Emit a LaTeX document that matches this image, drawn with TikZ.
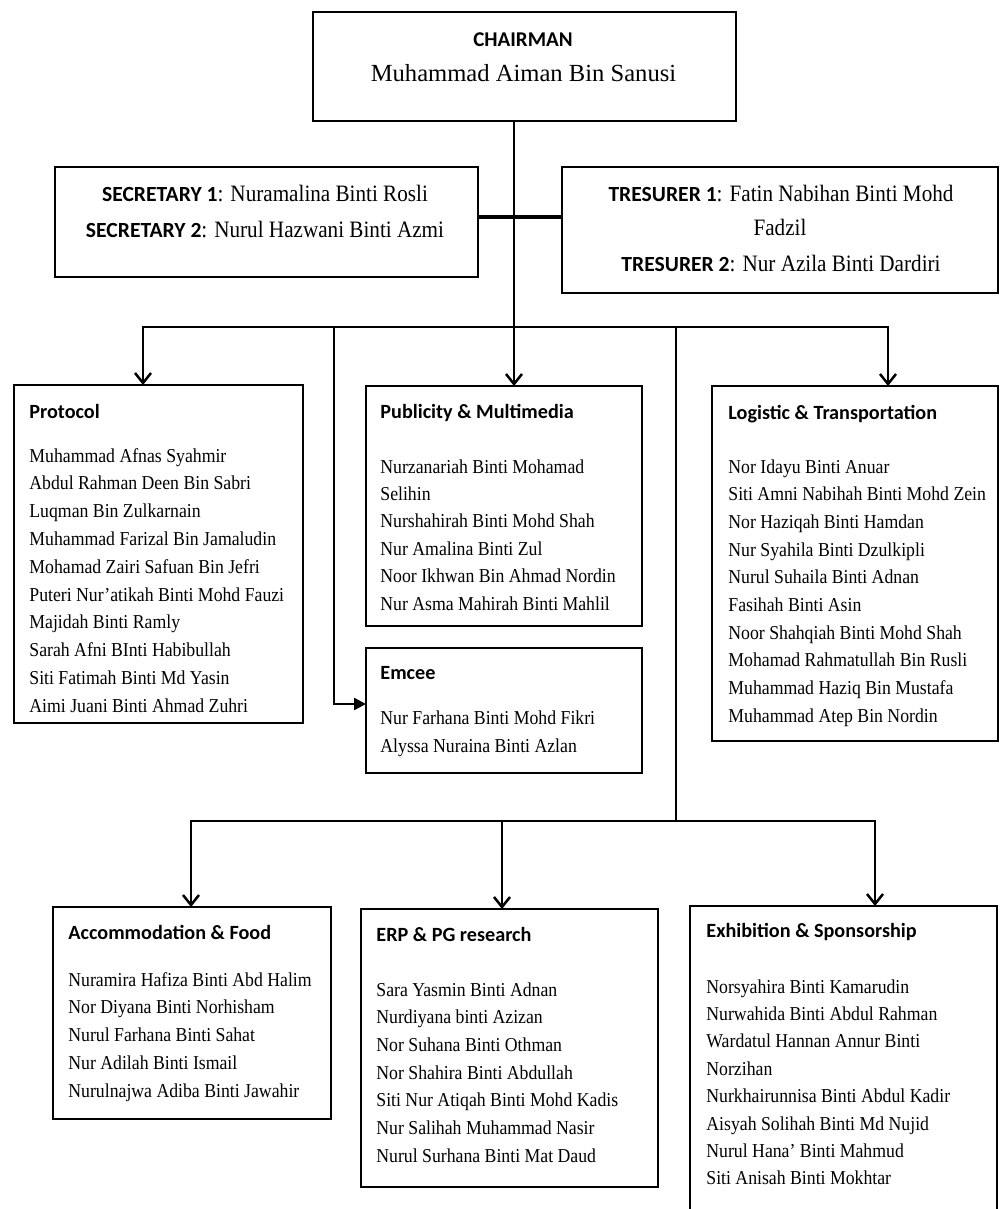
\documentclass[tikz,border=0pt]{standalone}
\usepackage{fontspec}
\usetikzlibrary{arrows.meta}
\setmainfont{Liberation Serif}
\newfontfamily\headfont{Carlito}
\newfontfamily\namefont[FakeStretch=0.9]{Liberation Serif}
\newcommand\rolefont{\headfont\bfseries\fontsize{10.8}{13}\selectfont}
\newcommand\rolename{\namefont\fontsize{11.75}{13}\selectfont}

\begin{document}
\begin{tikzpicture}[x=0.5pt,y=-0.5pt,
  box/.style={draw,line width=1pt,inner sep=0pt,outer sep=0pt},
  conn/.style={line width=1.25pt},
  arr/.style={line width=1.25pt,-{Straight Barb[length=5pt,width=8pt]}},
  arrf/.style={line width=1.25pt,-{Triangle[length=6pt,width=6pt]}},
  head/.style={anchor=base west,inner sep=0pt,font=\headfont\bfseries\fontsize{10.1}{12}\selectfont},
  member/.style={anchor=base west,inner sep=0pt,font=\namefont\fontsize{9.85}{12}\selectfont},
  role/.style={anchor=base,inner sep=0pt}]
  \useasboundingbox (0,0) rectangle (1000,1209);

  \node[box,minimum width=211.5pt,minimum height=54.5pt] (chair) at (524.5,66.5) {};
  \node[role,font=\headfont\bfseries\fontsize{10.5}{12}\selectfont] (chair-t) at (523,47) {CHAIRMAN};
  \node[role,font=\fontsize{12.3}{14}\selectfont] (chair-n) at (523.5,82) {Muhammad Aiman Bin Sanusi};

  \node[box,minimum width=211.5pt,minimum height=55pt] (sec) at (266.5,222) {};
  \node[role] (sec-1) at (265,202) {{\rolefont SECRETARY 1}{\rolename: Nuramalina Binti Rosli}};
  \node[role] (sec-2) at (265,237) {{\rolefont SECRETARY 2}{\rolename: Nurul Hazwani Binti Azmi}};

  \node[box,minimum width=218pt,minimum height=63pt] (tres) at (780,230) {};
  \node[role] (tres-1) at (781,202) {{\rolefont TRESURER 1}{\rolename: Fatin Nabihan Binti Mohd}};
  \node[role] (tres-2) at (780,235) {\rolename Fadzil};
  \node[role] (tres-3) at (781,271) {{\rolefont TRESURER 2}{\rolename: Nur Azila Binti Dardiri}};

  \node[box,minimum width=144.5pt,minimum height=169pt] (prot) at (158.5,554) {};
  \node[box,minimum width=138pt,minimum height=120pt] (pub) at (504,506) {};
  \node[box,minimum width=138pt,minimum height=62.5pt] (emcee) at (504,710.5) {};
  \node[box,minimum width=143pt,minimum height=177.5pt] (logi) at (855,563.5) {};
  \node[box,minimum width=139pt,minimum height=106pt] (acc) at (192,1013) {};
  \node[box,minimum width=148.5pt,minimum height=139pt] (erp) at (509.5,1048) {};
  \node[box,minimum width=153.5pt,minimum height=154.5pt] (exh) at (843.5,1060.5) {};

  \node[head] (prot-t) at (29,418) {Protocol};
  \foreach \nm [count=\i] in {Muhammad Afnas Syahmir,Abdul Rahman Deen Bin Sabri,Luqman Bin Zulkarnain,
    Muhammad Farizal Bin Jamaludin,Mohamad Zairi Safuan Bin Jefri,Puteri Nur’atikah Binti Mohd Fauzi,
    Majidah Binti Ramly,Sarah Afni BInti Habibullah,Siti Fatimah Binti Md Yasin,Aimi Juani Binti Ahmad Zuhri}
    \node[member] (prot-\i) at (29,{462+27.8*(\i-1)}) {\nm};

  \node[head] (pub-t) at (380,418) {Publicity \& Multimedia};
  \foreach \nm [count=\i] in {Nurzanariah Binti Mohamad,Selihin,Nurshahirah Binti Mohd Shah,
    Nur Amalina Binti Zul,Noor Ikhwan Bin Ahmad Nordin,Nur Asma Mahirah Binti Mahlil}
    \node[member] (pub-\i) at (380,{473+27.4*(\i-1)}) {\nm};

  \node[head] (emcee-t) at (380,679) {Emcee};
  \foreach \nm [count=\i] in {Nur Farhana Binti Mohd Fikri,Alyssa Nuraina Binti Azlan}
    \node[member] (emcee-\i) at (380,{724+28.5*(\i-1)}) {\nm};

  \node[head] (logi-t) at (728,419) {Logistic \& Transportation};
  \foreach \nm [count=\i] in {Nor Idayu Binti Anuar,Siti Amni Nabihah Binti Mohd Zein,Nor Haziqah Binti Hamdan,
    Nur Syahila Binti Dzulkipli,Nurul Suhaila Binti Adnan,Fasihah Binti Asin,Noor Shahqiah Binti Mohd Shah,
    Mohamad Rahmatullah Bin Rusli,Muhammad Haziq Bin Mustafa,Muhammad Atep Bin Nordin}
    \node[member] (logi-\i) at (728,{473+27.7*(\i-1)}) {\nm};

  \node[head] (acc-t) at (68,939) {Accommodation \& Food};
  \foreach \nm [count=\i] in {Nuramira Hafiza Binti Abd Halim,Nor Diyana Binti Norhisham,Nurul Farhana Binti Sahat,
    Nur Adilah Binti Ismail,Nurulnajwa Adiba Binti Jawahir}
    \node[member] (acc-\i) at (68,{986+27.75*(\i-1)}) {\nm};

  \node[head] (erp-t) at (376,941) {ERP \& PG research};
  \foreach \nm [count=\i] in {Sara Yasmin Binti Adnan,Nurdiyana binti Azizan,Nor Suhana Binti Othman,
    Nor Shahira Binti Abdullah,Siti Nur Atiqah Binti Mohd Kadis,Nur Salihah Muhammad Nasir,Nurul Surhana Binti Mat Daud}
    \node[member] (erp-\i) at (376,{996+27.7*(\i-1)}) {\nm};

  \node[head] (exh-t) at (706,937) {Exhibition \& Sponsorship};
  \foreach \nm [count=\i] in {Norsyahira Binti Kamarudin,Nurwahida Binti Abdul Rahman,Wardatul Hannan Annur Binti,
    Norzihan,Nurkhairunnisa Binti Abdul Kadir,Aisyah Solihah Binti Md Nujid,Nurul Hana’ Binti Mahmud,
    Siti Anisah Binti Mokhtar}
    \node[member] (exh-\i) at (706,{993+27.4*(\i-1)}) {\nm};

  \coordinate (top-bus) at (514,327);
  \coordinate (bus-l) at (143,327);
  \coordinate (bus-r) at (888,327);
  \coordinate (bus-e) at (334,327);
  \coordinate (bus-d) at (676,327);
  \coordinate (low-m) at (676,821);
  \coordinate (low-l) at (191,821);
  \coordinate (low-c) at (502,821);
  \coordinate (low-r) at (875,821);

  \draw[conn,line width=1.6pt] ([yshift=2.5pt]sec.east) -- ([yshift=2.5pt]sec.east -| tres.west);
  \draw[arr] (chair.south -| top-bus) -- (top-bus |- pub.north);
  \draw[arr] (bus-d) -- (bus-l) -- (bus-l |- prot.north);
  \draw[arr] (bus-d) -- (bus-r) -- (bus-r |- logi.north);
  \draw[arrf] (bus-e) |- ([yshift=3.25pt]emcee.west);
  \draw[conn] (bus-d) -- (low-m);
  \draw[arr] (low-m) -- (low-l) -- (low-l |- acc.north);
  \draw[arr] (low-m) -- (low-r) -- (low-r |- exh.north);
  \draw[arr] (low-c) -- (low-c |- erp.north);
\end{tikzpicture}
\end{document}
